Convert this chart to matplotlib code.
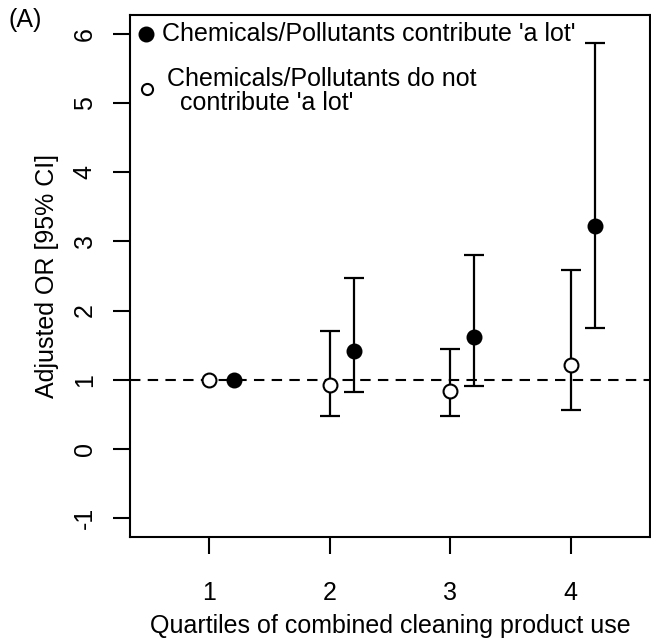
import matplotlib
matplotlib.use("Agg")
import matplotlib.pyplot as plt

plt.rcParams['font.family'] = ['Liberation Sans', 'DejaVu Sans']

quartiles = [1, 2, 3, 4]
tick_labels = ["1", "2", "3", "4"]

# Chemicals/Pollutants do not contribute 'a lot' (open)
open_or = [1.0, 0.92, 0.83, 1.21]
open_lo = [1.0, 0.47, 0.47, 0.56]
open_hi = [1.0, 1.71, 1.45, 2.59]

# Chemicals/Pollutants contribute 'a lot' (filled)
fill_or = [1.0, 1.41, 1.61, 3.22]
fill_lo = [1.0, 0.82, 0.90, 1.74]
fill_hi = [1.0, 2.47, 2.81, 5.87]

offset = 0.2
FS = 18

fig = plt.figure(figsize=(6.51, 6.39), dpi=100)
ax = fig.add_axes([130/651, 1-537/639, 520/651, 522/639])

ax.axhline(1, color='black', lw=1.5, ls=(0, (5, 3.5)), zorder=1)

def draw(xs, ors, los, his, face):
    for x, o, lo, hi in zip(xs, ors, los, his):
        if hi - lo > 0:
            ax.errorbar([x], [o], yerr=[[o - lo], [hi - o]], fmt='none',
                        ecolor='black', elinewidth=1.6, capsize=7,
                        capthick=1.6, zorder=2)
    ax.plot(xs, ors, 'o', ms=10, mfc=face, mec='black', mew=1.5,
            ls='none', zorder=3)

draw(quartiles, open_or, open_lo, open_hi, 'white')
draw([q + offset for q in quartiles], fill_or, fill_lo, fill_hi, 'black')

ax.set_xlim(0.34, 4.66)
ax.set_ylim(-1.28, 6.28)
ax.set_xticks(quartiles)
ax.set_xticklabels(tick_labels)
ax.set_yticks([-1, 0, 1, 2, 3, 4, 5, 6])
ax.set_yticklabels(['-1', '0', '1', '2', '3', '4', '5', '6'], rotation=90,
                   va='center')
ax.tick_params(axis='both', length=12, width=1.5, labelsize=FS,
               direction='out')
ax.tick_params(axis='x', pad=20)
ax.tick_params(axis='y', pad=12)
for s in ax.spines.values():
    s.set_linewidth(1.5)

ax.set_xlabel("Quartiles of combined cleaning product use", fontsize=FS,
              labelpad=6)
ax.set_ylabel("Adjusted OR [95% CI]", fontsize=FS, labelpad=10)

# legend (manual, R-style)
ax.plot([0.473], [6.0], 'o', ms=10, mfc='black', mec='black', mew=1.5)
ax.text(0.61, 6.0, "Chemicals/Pollutants contribute 'a lot'", fontsize=FS,
        va='center', ha='left')
ax.plot([0.48], [5.21], 'o', ms=8, mfc='white', mec='black', mew=1.5)
ax.text(0.645, 5.36, "Chemicals/Pollutants do not", fontsize=FS,
        va='center', ha='left')
ax.text(0.755, 5.0, "contribute 'a lot'", fontsize=FS,
        va='center', ha='left')

fig.text(8/651, 1-20/639, "(A)", fontsize=FS, va='center', ha='left')

fig.savefig("out.png", dpi=100)
